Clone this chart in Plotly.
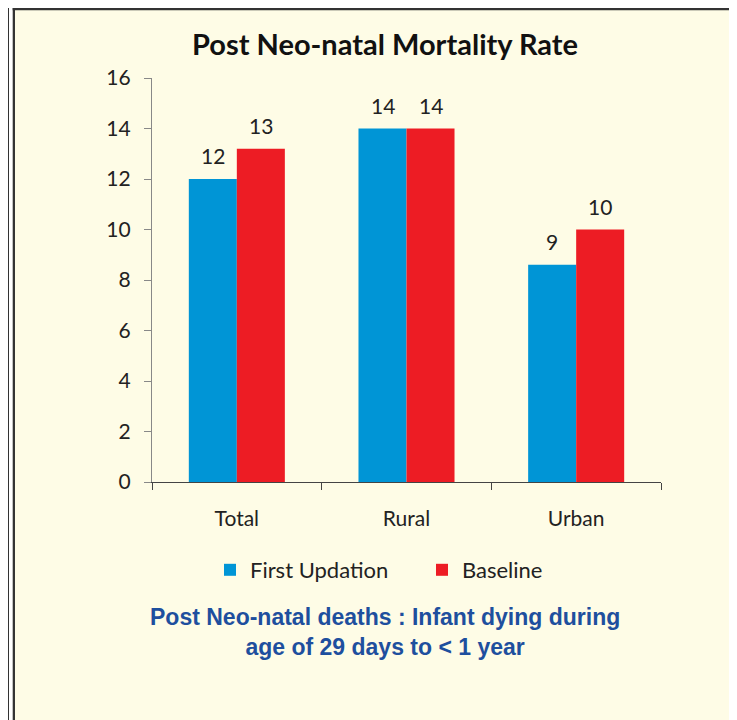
import plotly.graph_objects as go

categories = ["Total", "Rural", "Urban"]
first_updation = [12.0, 14.0, 8.6]
baseline = [13.2, 14.0, 10.0]
series_names = ["First Updation", "Baseline"]
y_ticks = [0, 2, 4, 6, 8, 10, 12, 14, 16]

# page has an 8px body margin; coordinates below are page pixels
OFF = 8
W, H = 737 - OFF, 720 - OFF
L, R, T, B = 152 - OFF, 661 - OFF, 78 - OFF, 482 - OFF


def px(x):
    """page x pixel -> paper coordinate"""
    return (x - OFF - L) / (R - L)


def py(y):
    """page y pixel -> paper coordinate"""
    return (B - (y - OFF)) / (B - T)


CREAM = "#FEFCE6"
BLUE = "#0095D6"
RED = "#ED1C24"
FONT = "Lato, 'Open Sans', sans-serif"

fig = go.Figure()
fig.add_trace(go.Bar(x=categories, y=first_updation, name=series_names[0], marker=dict(color=BLUE, line=dict(width=0))))
fig.add_trace(go.Bar(x=categories, y=baseline, name=series_names[1], marker=dict(color=RED, line=dict(width=0))))

annotations = []
for vals, shift in [(first_updation, -24), (baseline, 24)]:
    for c, v in zip(categories, vals):
        annotations.append(dict(x=c, y=v, xref="x", yref="y", text=str(round(v)), showarrow=False,
                                xshift=shift, yshift=9, yanchor="bottom",
                                font=dict(family=FONT, size=21, color="#222222")))

annotations.append(dict(
    x=px(385), y=py(632), xref="paper", yref="paper", xanchor="center", yanchor="middle",
    text="<b>Post Neo-natal deaths : Infant dying during<br>age of 29 days to &lt; 1 year</b>",
    showarrow=False, align="center",
    font=dict(family="'Liberation Sans Narrow', 'Arial Narrow', 'Liberation Sans', sans-serif", size=23, color="#1E4F9E")))

shapes = [
    # white gap between the double border lines
    dict(type="rect", xref="paper", yref="paper", x0=px(8), x1=px(13), y0=py(760), y1=py(8),
         fillcolor="#FFFFFF", line=dict(width=0), layer="below"),
    # outer vertical border
    dict(type="rect", xref="paper", yref="paper", x0=px(7), x1=px(9), y0=py(760), y1=py(0),
         fillcolor="#333333", line=dict(width=0)),
    # inner vertical border
    dict(type="rect", xref="paper", yref="paper", x0=px(12.7), x1=px(15), y0=py(760), y1=py(8),
         fillcolor="#333333", line=dict(width=0)),
    # top border
    dict(type="rect", xref="paper", yref="paper", x0=px(12.7), x1=px(760), y0=py(10.3), y1=py(8),
         fillcolor="#333333", line=dict(width=0)),
]

fig.update_layout(
    width=W, height=H,
    margin=dict(l=L, r=W - R, t=T, b=H - B, pad=0),
    paper_bgcolor=CREAM, plot_bgcolor=CREAM,
    barmode="group", bargap=0.434, bargroupgap=0,
    title=dict(text="<b>Post Neo-natal Mortality Rate</b>", x=px(385), xref="paper", xanchor="center",
               y=1 - (45 - OFF) / H, yanchor="middle", font=dict(family=FONT, size=29, color="#111111")),
    xaxis=dict(type="category", showgrid=False, zeroline=False, showline=True, linecolor="#444444", linewidth=1.2,
               ticks="outside", tickson="boundaries", ticklen=7, tickcolor="#444444",
               tickfont=dict(family=FONT, size=21, color="#222222"), ticklabelstandoff=18),
    yaxis=dict(range=[0, 16], tickvals=y_ticks, showgrid=False, zeroline=False, showline=True,
               linecolor="#888888", linewidth=1.2, ticks="outside", ticklen=7, tickcolor="#888888",
               tickfont=dict(family=FONT, size=21, color="#222222"), ticklabelstandoff=9),
    legend=dict(orientation="h", x=px(422), xanchor="center", y=py(570), yanchor="middle",
                entrywidth=167, itemwidth=30,
                font=dict(family=FONT, size=22, color="#222222"), bgcolor="rgba(0,0,0,0)"),
    annotations=annotations,
    shapes=shapes,
)

fig.write_html("out.html")
